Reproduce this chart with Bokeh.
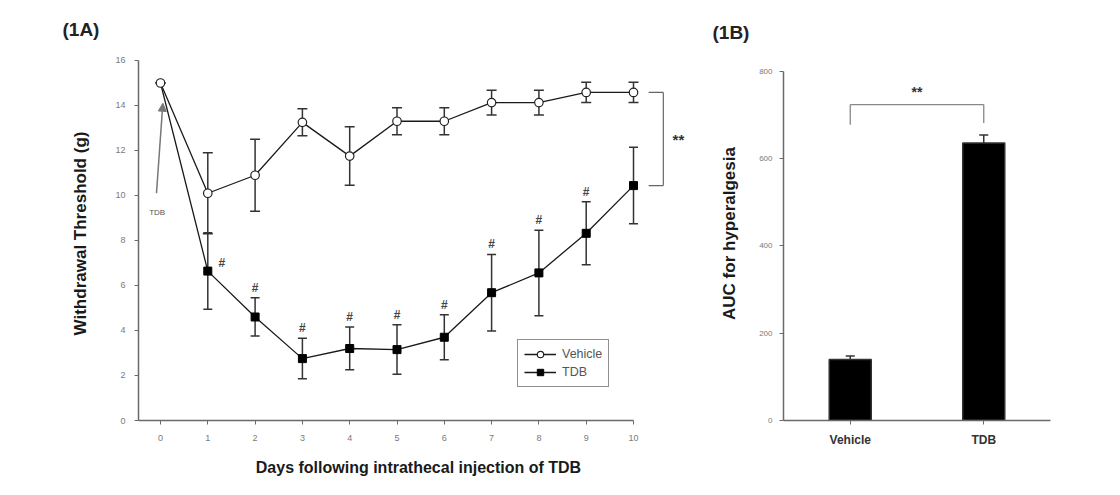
from bokeh.plotting import figure
from bokeh.layouts import row
from bokeh.models import (ColumnDataSource, Whisker, TeeHead, Arrow, NormalHead, Title,
                          FixedTicker, Label, FactorRange, CDSView, IndexFilter)
from bokeh.embed import file_html
from bokeh.resources import INLINE

# ---------------- data ----------------
days = [0, 1, 2, 3, 4, 5, 6, 7, 8, 9, 10]
vehicle_mean = [15.0, 10.1, 10.9, 13.25, 11.75, 13.3, 13.3, 14.13, 14.13, 14.58, 14.58]
vehicle_sem = [0.0, 1.8, 1.6, 0.6, 1.3, 0.6, 0.6, 0.55, 0.55, 0.45, 0.45]
tdb_mean = [15.0, 6.64, 4.6, 2.75, 3.2, 3.15, 3.7, 5.68, 6.56, 8.32, 10.44]
tdb_sem = [0.0, 1.7, 0.85, 0.9, 0.95, 1.1, 1.0, 1.7, 1.9, 1.4, 1.7]
hash_days = [1, 2, 3, 4, 5, 6, 7, 8, 9]

groups = ["Vehicle", "TDB"]
auc = [140, 636]
auc_sem = [8, 18]

y_ticks_a = [0, 2, 4, 6, 8, 10, 12, 14, 16]
y_ticks_b = [0, 200, 400, 600, 800]

FONT = "Liberation Sans"
AXC = "#6a6a6a"
TICKC = "#7a7a7a"
LINEC = "#1a1a1a"
TOP = 46

def style_axes(p):
    for ax in (p.xaxis, p.yaxis):
        ax.axis_line_color = AXC
        ax.axis_line_width = 1.5
        ax.major_tick_line_color = AXC
        ax.minor_tick_line_color = None
        ax.major_tick_in = 0
        ax.major_tick_out = 4
        ax.major_label_text_font = FONT
        ax.major_label_text_color = TICKC
        ax.axis_label_text_font = FONT
        ax.axis_label_text_font_style = "bold"
        ax.axis_label_text_color = "#1a1a1a"
    p.xgrid.visible = False
    p.ygrid.visible = False
    p.outline_line_color = None

# ---------------- panel A ----------------
pa = figure(width=700, height=490, x_range=(-0.465, 11.374), y_range=(0, 16.622),
            output_backend="svg", toolbar_location=None,
            min_border_left=138, min_border_right=2, min_border_top=TOP, min_border_bottom=70)
pa.add_layout(Title(text="(1A)", text_font=FONT, text_font_size="19px", text_font_style="bold",
                    text_color="#222222", align="left", offset=-76, standoff=14), "above")
style_axes(pa)
pa.xaxis.bounds = (-0.465, 10)
pa.yaxis.bounds = (0, 16)
pa.xaxis.ticker = FixedTicker(ticks=days)
pa.yaxis.ticker = FixedTicker(ticks=y_ticks_a)
pa.xaxis.major_label_text_font_size = "9px"
pa.yaxis.major_label_text_font_size = "9px"
pa.xaxis.major_label_standoff = 10
pa.yaxis.major_label_standoff = 9
pa.xaxis.axis_label = "Days following intrathecal injection of TDB"
pa.yaxis.axis_label = "Withdrawal Threshold (g)"
pa.xaxis.axis_label_text_font_size = "16px"
pa.yaxis.axis_label_text_font_size = "17px"
pa.xaxis.axis_label_standoff = 15
pa.yaxis.axis_label_standoff = 22

veh = ColumnDataSource(dict(x=days, y=vehicle_mean,
                            up=[m + s for m, s in zip(vehicle_mean, vehicle_sem)],
                            lo=[m - s for m, s in zip(vehicle_mean, vehicle_sem)]))
tdb = ColumnDataSource(dict(x=days, y=tdb_mean,
                            up=[m + s for m, s in zip(tdb_mean, tdb_sem)],
                            lo=[m - s for m, s in zip(tdb_mean, tdb_sem)]))

pa.add_layout(Whisker(source=tdb, base="x", upper="up", lower="lo", line_color="#333333",
                      line_width=1.5,
                      upper_head=TeeHead(size=9, line_color="#333333", line_width=1.5),
                      lower_head=TeeHead(size=9, line_color="#333333", line_width=1.5)))
pa.add_layout(Whisker(source=veh, base="x", upper="up", lower="lo", line_color="#333333",
                      line_width=1.5,
                      upper_head=TeeHead(size=10, line_color="#333333", line_width=1.5),
                      lower_head=TeeHead(size=10, line_color="#333333", line_width=1.5)))

after_injection = CDSView(filter=IndexFilter(list(range(1, len(days)))))
pa.line("x", "y", source=tdb, line_color=LINEC, line_width=1.3, legend_label="TDB")
pa.scatter("x", "y", source=tdb, view=after_injection, marker="square", size=8,
           fill_color="black", line_color="black", legend_label="TDB")
pa.line("x", "y", source=veh, line_color=LINEC, line_width=1.3, legend_label="Vehicle")
pa.scatter("x", "y", source=veh, marker="circle", size=8.5, fill_color="white",
           line_color="#222222", line_width=1.2, legend_label="Vehicle")

# significance markers (#)
hx, hy, hxo, hyo = [], [], [], []
for d in hash_days:
    top = tdb_mean[d] + tdb_sem[d]
    if d == 1:
        hx.append(d); hy.append(tdb_mean[d]); hxo.append(14); hyo.append(-8)
    else:
        hx.append(d); hy.append(top); hxo.append(0); hyo.append(-10)
pa.text(x=hx, y=hy, text=["#"] * len(hx), x_offset=hxo, y_offset=hyo,
        text_font_size="12px", text_color="#444444", text_align="center",
        text_baseline="middle", text_font_style="bold")

# bracket ** between groups at day 10
bx0, bx1 = 10.32, 10.63
pa.segment(x0=[bx0, bx1, bx0], y0=[vehicle_mean[-1], vehicle_mean[-1], tdb_mean[-1]],
           x1=[bx1, bx1, bx1], y1=[vehicle_mean[-1], tdb_mean[-1], tdb_mean[-1]],
           line_color="#666666", line_width=1.2)
pa.add_layout(Label(x=10.95, y=(vehicle_mean[-1] + tdb_mean[-1]) / 2, text="**",
                    text_font=FONT, text_font_size="15px", text_font_style="bold",
                    text_color="#333333", text_align="center", text_baseline="middle"))

# TDB arrow annotation
pa.add_layout(Arrow(x_start=-0.085, y_start=10.1, x_end=0.05, y_end=14.1,
                    line_color="#777777", line_width=1.5,
                    end=NormalHead(size=8, fill_color="#777777", line_color="#777777")))
pa.add_layout(Label(x=-0.07, y=9.25, text="TDB", text_font=FONT, text_font_size="8px",
                    text_color="#555555", text_align="center", text_baseline="middle"))

lg = pa.legend[0]
lg.location = (379, 33)
lg.items = [lg.items[1], lg.items[0]]
lg.border_line_color = "#222222"
lg.border_line_width = 1.5
lg.label_text_font = FONT
lg.label_text_font_size = "12.5px"
lg.label_text_color = "#555555"
lg.glyph_width = 32
lg.glyph_height = 16
lg.label_height = 16
lg.spacing = 2
lg.padding = 6
lg.margin = 0
lg.label_standoff = 6
lg.background_fill_alpha = 1

# ---------------- panel B ----------------
pb = figure(width=410, height=490, x_range=FactorRange(factors=groups), y_range=(0, 857.1),
            output_backend="svg", toolbar_location=None,
            min_border_left=83, min_border_right=60, min_border_top=TOP, min_border_bottom=70)
pb.add_layout(Title(text="(1B)", text_font=FONT, text_font_size="19px", text_font_style="bold",
                    text_color="#222222", align="left", offset=-71, standoff=7), "above")
style_axes(pb)
pb.yaxis.bounds = (0, 800)
pb.yaxis.ticker = FixedTicker(ticks=y_ticks_b)
pb.yaxis.major_label_text_font_size = "8px"
pb.yaxis.major_label_standoff = 7
pb.xaxis.major_label_text_font_size = "12px"
pb.xaxis.major_label_text_font_style = "bold"
pb.xaxis.major_label_text_color = "#333333"
pb.xaxis.major_label_standoff = 8
pb.yaxis.axis_label = "AUC for hyperalgesia"
pb.yaxis.axis_label_text_font_size = "17px"
pb.yaxis.axis_label_standoff = 17

bsrc = ColumnDataSource(dict(g=groups, v=auc, up=[a + s for a, s in zip(auc, auc_sem)]))
pb.add_layout(Whisker(source=bsrc, base="g", upper="up", lower="v", line_color="#333333",
                      line_width=1.5,
                      upper_head=TeeHead(size=9, line_color="#333333", line_width=1.5),
                      lower_head=None))
pb.vbar(x="g", top="v", source=bsrc, width=0.315, fill_color="black", line_color="#333333",
        line_width=1.5)

br_top, br_left, br_right = 724, 678, 682
pb.segment(x0=[groups[0], groups[0], groups[1]], y0=[br_top, br_top, br_top],
           x1=[groups[1], groups[0], groups[1]], y1=[br_top, br_left, br_right],
           line_color="#888888", line_width=1.3)
pb.add_layout(Label(x=1.0, y=753, text="**", text_font=FONT, text_font_size="14px",
                    text_font_style="bold", text_color="#333333", text_align="center",
                    text_baseline="middle"))

layout = row(pa, pb)
open("out.html", "w").write(file_html(layout, INLINE))
